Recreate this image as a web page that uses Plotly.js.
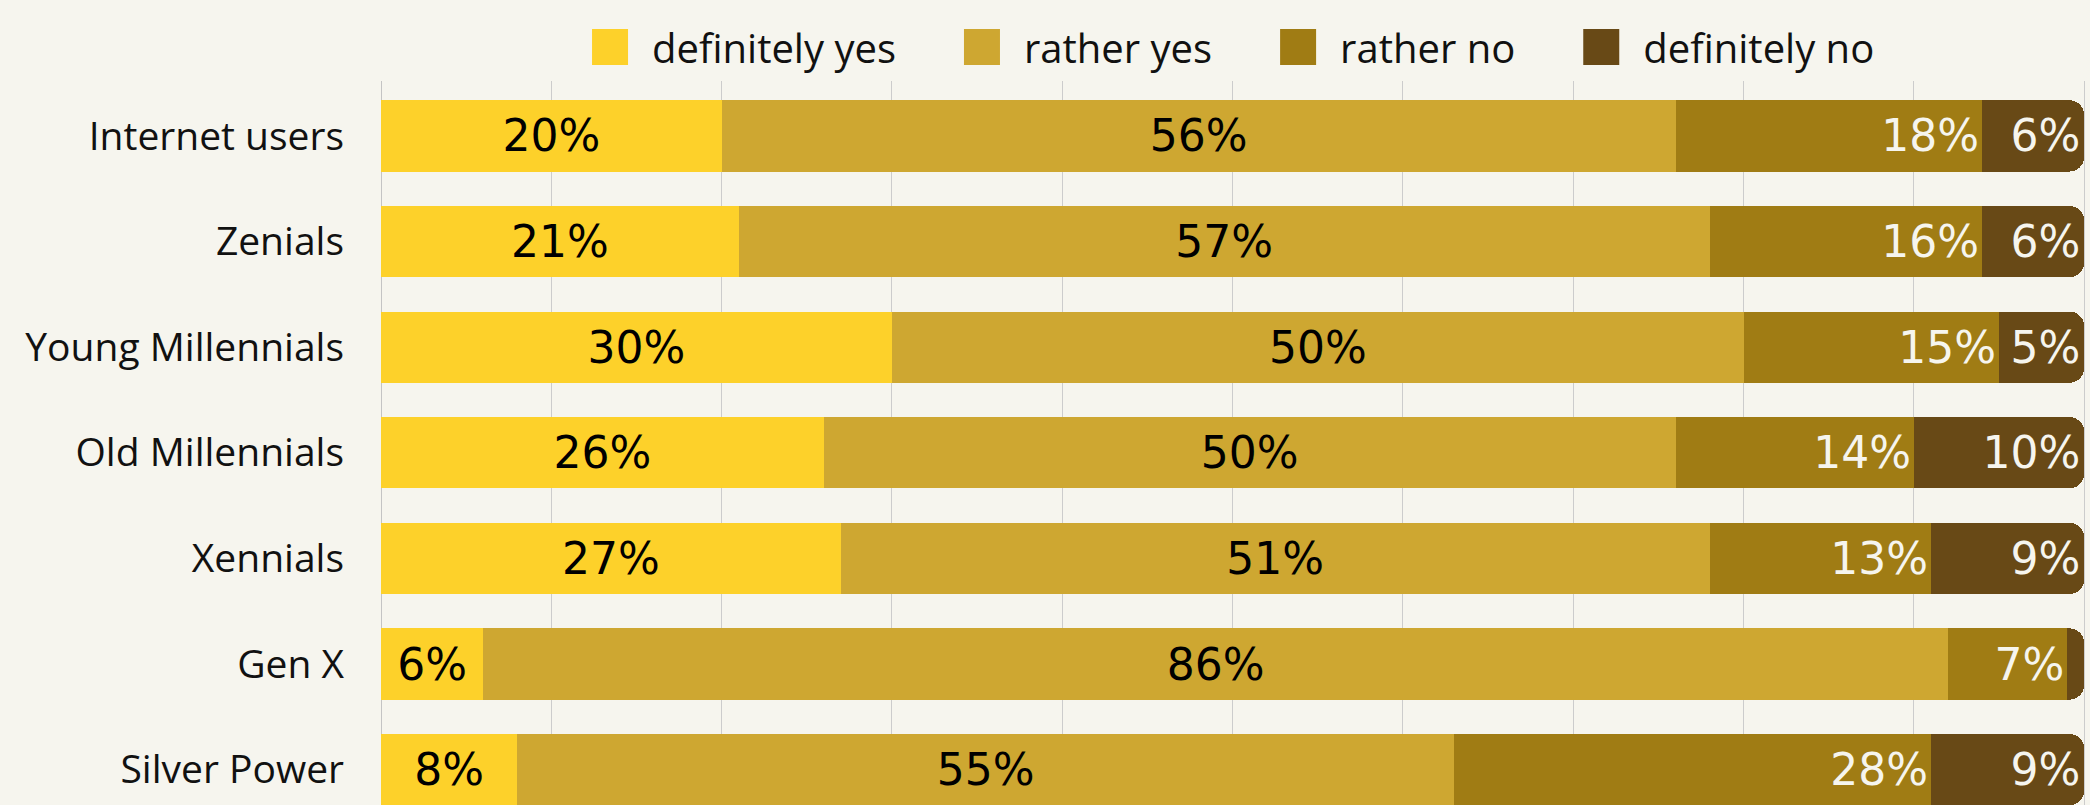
<!DOCTYPE html>
<html>
<head>
<meta charset="utf-8">
<script src="https://cdn.plot.ly/plotly-3.0.1.min.js"></script>
<style>
  html, body { margin: 0; padding: 0; background: #f6f5ee; }
  #chart { width: 2090px; height: 805px; }
</style>
</head>
<body>
<div id="chart"></div>
<script>
const categories = ["Internet users", "Zenials", "Young Millennials", "Old Millennials", "Xennials", "Gen X", "Silver Power"];
const seriesNames = ["definitely yes", "rather yes", "rather no", "definitely no"];
const definitelyYes = [20, 21, 30, 26, 27, 6, 8];
const ratherYes     = [56, 57, 50, 50, 51, 86, 55];
const ratherNo      = [18, 16, 15, 14, 13, 7, 28];
const definitelyNo  = [6, 6, 5, 10, 9, 1, 9];

const seriesValues = [definitelyYes, ratherYes, ratherNo, definitelyNo];
const colors = ["#fdd12a", "#cea731", "#a07c14", "#684916"];
const textColors = ["#000000", "#000000", "#f6f5ee", "#f6f5ee"];
const anchors = ["middle", "middle", "end", "end"];

const labelFont = "DejaVu Sans, sans-serif";
const tickFont = "Open Sans, sans-serif";

const traces = seriesNames.map((name, i) => ({
  type: "bar",
  orientation: "h",
  name: name,
  y: categories,
  x: seriesValues[i],
  marker: { color: colors[i], line: { width: 0 } },
  texttemplate: "%{x}%",
  textposition: "inside",
  insidetextanchor: anchors[i],
  textfont: { family: labelFont, size: 44, color: textColors[i] },
  hoverinfo: "skip"
}));

const layout = {
  width: 2090,
  height: 805,
  barmode: "stack",
  bargap: 0.325,
  barcornerradius: 15,
  paper_bgcolor: "#f6f5ee",
  plot_bgcolor: "#f6f5ee",
  margin: { l: 381, r: 4, t: 81, b: 0, pad: 0 },
  uniformtext: { mode: "hide", minsize: 44 },
  xaxis: {
    range: [0, 100.1],
    dtick: 10,
    tick0: 0,
    showgrid: true,
    gridcolor: "#cccccc",
    gridwidth: 1,
    zeroline: true,
    zerolinecolor: "#c4c4c4",
    zerolinewidth: 1,
    showticklabels: false,
    ticks: "",
    fixedrange: true
  },
  yaxis: {
    type: "category",
    range: [6.335, -0.52],
    showgrid: false,
    zeroline: false,
    ticks: "",
    ticklabelstandoff: 36,
    tickfont: { family: tickFont, size: 39, color: "#111111" },
    fixedrange: true
  },
  showlegend: true,
  legend: {
    orientation: "h",
    x: 0.1009,
    xanchor: "left",
    y: 1.047,
    yanchor: "middle",
    font: { family: tickFont, size: 40, color: "#111111" },
    itemwidth: 89,
    bgcolor: "rgba(0,0,0,0)",
    traceorder: "normal"
  }
};

Plotly.newPlot("chart", traces, layout, { displayModeBar: false, staticPlot: true }).then(gd => {
  // enlarge legend swatches and widen spacing between legend entries
  const extraGap = 24;
  const scrollbox = gd.querySelector(".legend .scrollbox");
  if (scrollbox) scrollbox.removeAttribute("clip-path");
  gd.querySelectorAll(".legend .traces").forEach((tr, i) => {
    const txt = tr.querySelector("text.legendtext");
    const tx = txt ? parseFloat(txt.getAttribute("x")) : 99;
    tr.querySelectorAll(".legendpoints path").forEach(p => {
      p.setAttribute("d", "M6,6H-6V-6H6Z");
      p.setAttribute("transform", "translate(" + (tx - 42) + ",0) scale(3)");
    });
    const t = tr.getAttribute("transform") || "";
    const m = t.match(/translate\(\s*([-\d.]+)[ ,]+([-\d.]+)\s*\)/);
    if (m) {
      tr.setAttribute("transform", "translate(" + (parseFloat(m[1]) + i * extraGap) + "," + m[2] + ")");
    }
  });
});
</script>
</body>
</html>
